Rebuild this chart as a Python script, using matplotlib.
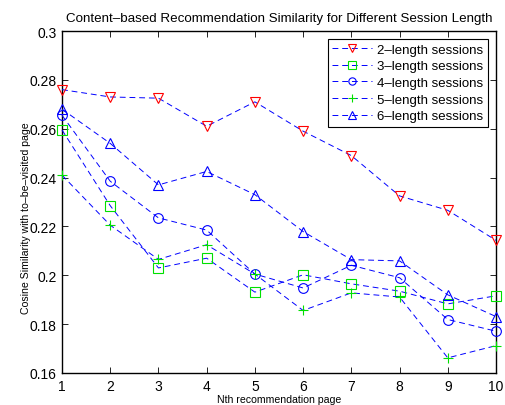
import matplotlib
matplotlib.use("Agg")
import matplotlib.pyplot as plt

pages = [1, 2, 3, 4, 5, 6, 7, 8, 9, 10]
s2 = [0.276, 0.273, 0.2725, 0.261, 0.271, 0.259, 0.249, 0.2325, 0.2266, 0.2143]
s3 = [0.2595, 0.2285, 0.203, 0.207, 0.1931, 0.2002, 0.1965, 0.1935, 0.1883, 0.1916]
s4 = [0.2655, 0.2385, 0.2235, 0.2185, 0.2005, 0.1948, 0.2041, 0.199, 0.1819, 0.1771]
s5 = [0.241, 0.2205, 0.2065, 0.2125, 0.2005, 0.1856, 0.1928, 0.1911, 0.1662, 0.1712]
s6 = [0.268, 0.254, 0.237, 0.2425, 0.233, 0.2179, 0.2064, 0.2059, 0.192, 0.1831]
labels = ["2\u2013length sessions", "3\u2013length sessions", "4\u2013length sessions",
          "5\u2013length sessions", "6\u2013length sessions"]
yticks = [0.16, 0.18, 0.2, 0.22, 0.24, 0.26, 0.28, 0.3]
ytick_labels = ["0.16", "0.18", "0.2", "0.22", "0.24", "0.26", "0.28", "0.3"]

plt.rcParams['font.family'] = ['Liberation Sans', 'DejaVu Sans']

fig = plt.figure(figsize=(5.06, 4.06), dpi=100)
ax = fig.add_axes([62 / 506, 1 - 374 / 406, (496 - 62) / 506, (374 - 32) / 406])

styles = [("v", "red", "none"), ("s", "#00e000", "none"), ("o", "blue", "none"),
          ("+", "#00e000", "#00e000"), ("^", "blue", "none")]
for ys, lab, (m, c, fc) in zip([s2, s3, s4, s5, s6], labels, styles):
    ax.plot(pages, ys, color="blue", linestyle=(0, (6, 4)), linewidth=0.7,
            marker=m, markeredgecolor=c, markerfacecolor=fc, markersize=7,
            markeredgewidth=0.8, label=lab, clip_on=False, zorder=3)

ax.set_xlim(1, 10)
ax.set_ylim(0.16, 0.3)
ax.set_xticks(pages)
ax.set_yticks(yticks)
ax.set_yticklabels(ytick_labels)
ax.tick_params(direction="in", top=True, right=True, labelsize=10, length=4, width=0.6,
               pad=4)
for sp in ax.spines.values():
    sp.set_linewidth(1.0)

ax.set_title("Content\u2013based Recommendation Similarity for Different Session Length",
             fontsize=9.6, pad=7)
ax.set_xlabel("Nth recommendation page", fontsize=7.6, labelpad=1)
ax.set_ylabel("Cosine Similarity with to\u2013be\u2013visited page", fontsize=7.6)
ax.yaxis.set_label_coords(-0.072, 0.456)

leg = ax.legend(loc="upper right", fontsize=9.5, frameon=True, fancybox=False,
                edgecolor="black", handlelength=3.0, handletextpad=0.4,
                borderaxespad=0.6, labelspacing=0.33, borderpad=0.35,
                markerscale=0.75, framealpha=1)
leg.get_frame().set_linewidth(0.8)
leg.set_zorder(5)

fig.savefig("out.png", dpi=100)
